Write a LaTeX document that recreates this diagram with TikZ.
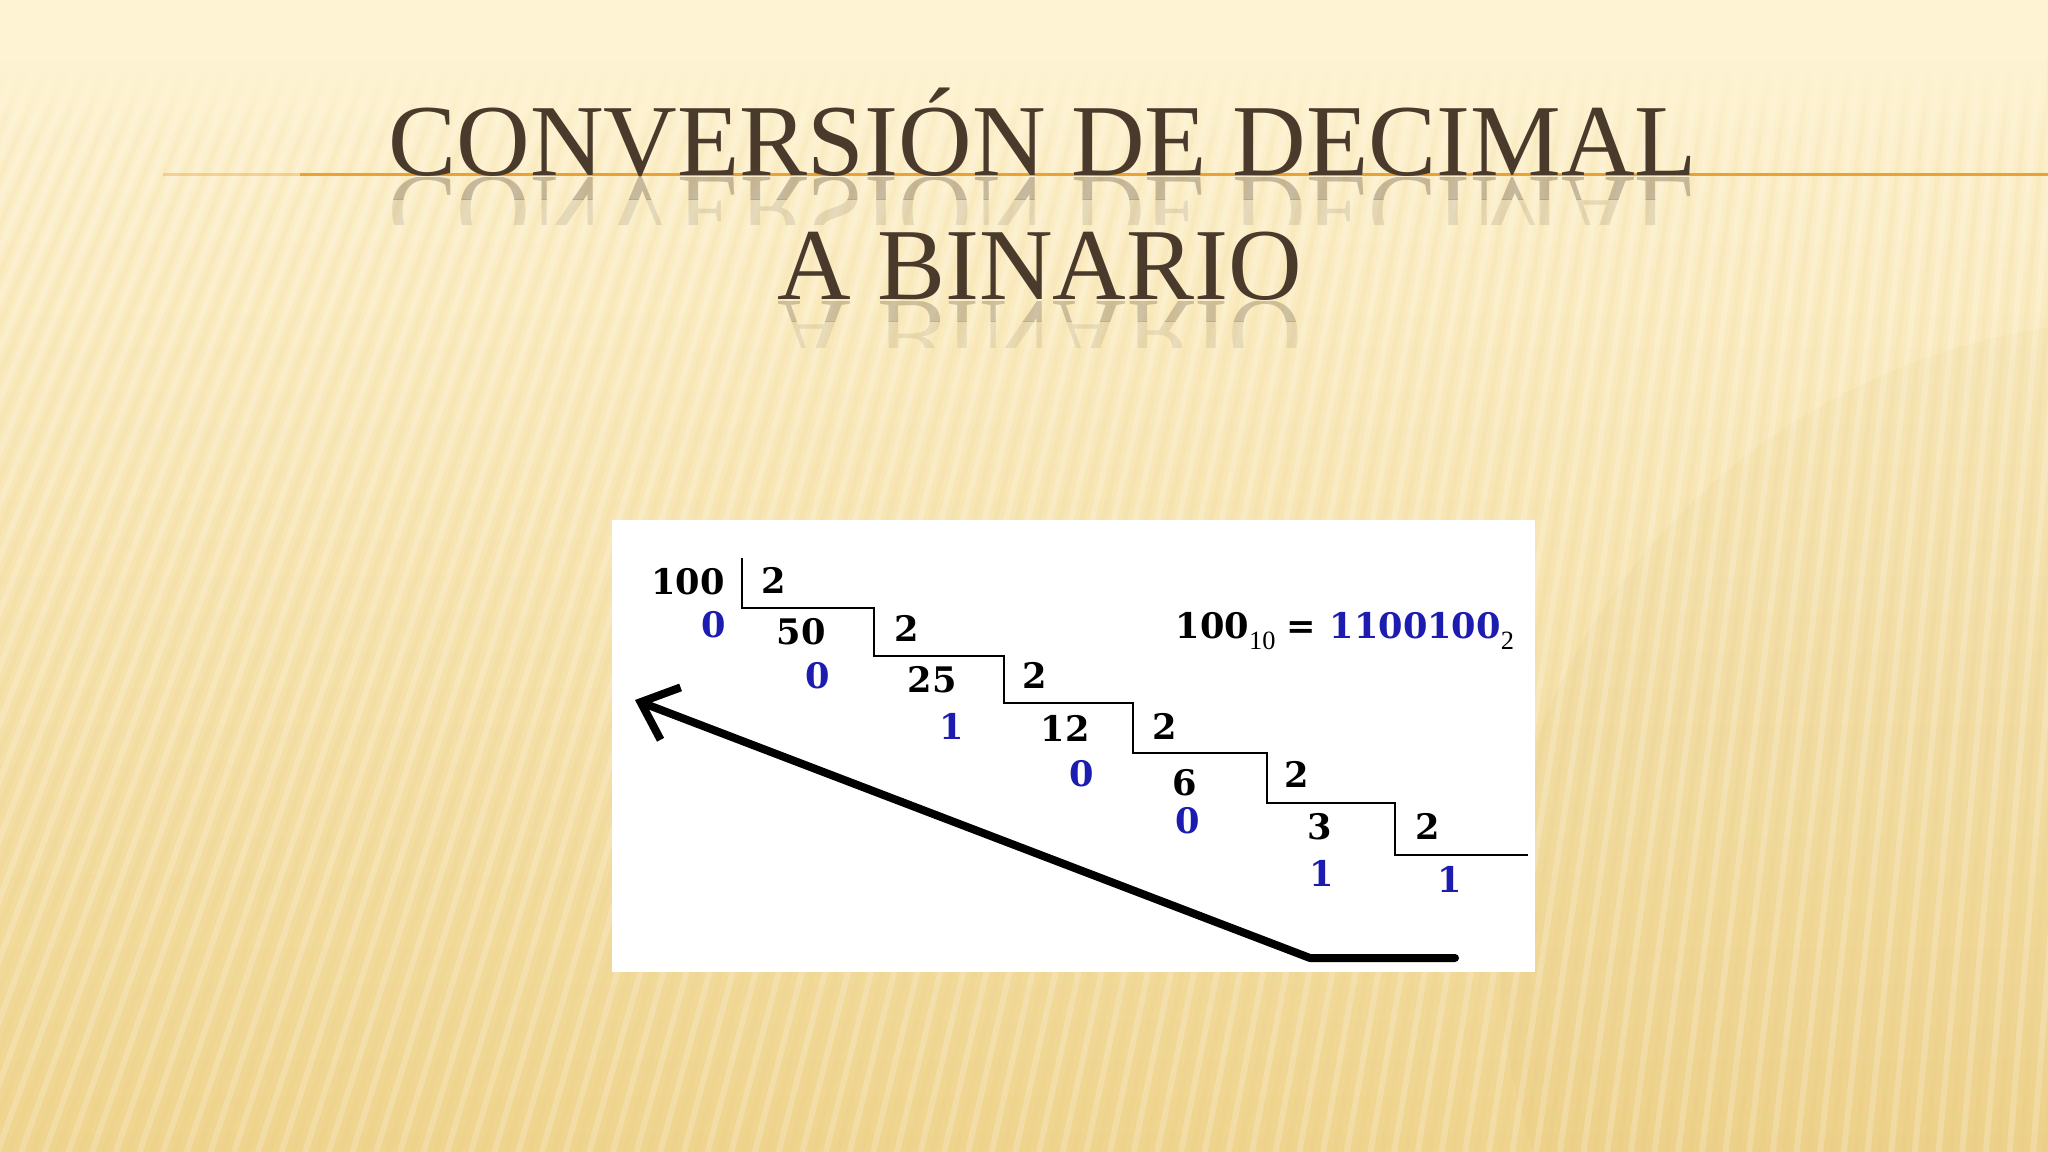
\documentclass[tikz,border=0pt]{standalone}
\usepackage{graphicx}
\usepackage{fontspec}
\setmainfont{Liberation Serif}
\newfontfamily\digits{DejaVu Serif}
\usetikzlibrary{arrows.meta,fadings}

\definecolor{bgtop}{HTML}{FEF3D2}
\definecolor{bgmid}{HTML}{F9E6B4}
\definecolor{bgbot}{HTML}{EFD48E}
\definecolor{bgdark}{HTML}{D9B866}
\definecolor{titlebrown}{HTML}{4A3A2B}
\definecolor{lineorange}{HTML}{E8A236}
\definecolor{binblue}{HTML}{1C1CB0}

\newcommand{\basesub}[1]{\raisebox{-3.4pt}{\rmfamily\mdseries\fontsize{7.5pt}{9pt}\selectfont #1}}

\begin{document}
\begin{tikzpicture}[x=0.01cm, y=-0.01cm,
  stripe/.style={white, opacity=0.2, line width=0.06cm},
  darkstripe/.style={bgdark, opacity=0.06, line width=0.05cm},
  title/.style={text=titlebrown, font=\fontsize{29pt}{34pt}\selectfont, inner sep=0, anchor=base},
  num/.style={font=\digits\bfseries\fontsize{10pt}{12pt}\selectfont, inner sep=0},
  rem/.style={num, text=binblue},
  stairs/.style={line width=0.8pt, line join=miter},
  back/.style={line width=0.08cm, line cap=round, line join=round,
    -{Straight Barb[length=0.32cm, width=0.56cm]}}]
  \useasboundingbox (0,0) rectangle (2048,1152);

  % background
  \shade[top color=bgtop, middle color=bgmid, bottom color=bgbot] (0,0) rectangle (2048,1152);
  \fill[bgdark, opacity=0.08] (2150,950) ellipse [x radius=6.5cm, y radius=6.3cm];
  \foreach \x in {-100,-80,...,2260} {
    \draw[stripe] (\x,60) -- ({1.1836*\x-476},1152);
    \draw[darkstripe] (\x+10,60) -- ({1.1836*(\x+10)-476},1152);
  }
  \fill[bgtop] (0,0) rectangle (2048,60);
  \fill[bgtop, path fading=south] (0,59) rectangle (2048,150);

  % title
  \draw[lineorange, opacity=0.4, line width=0.03cm] (163,175) -- (300,175);
  \draw[lineorange, line width=0.03cm] (300,175) -- (2048,175);
  \begin{scope}
    \clip (0,178) rectangle (2048,200);
    \node[title, opacity=0.3] at (1043,178) {\scalebox{1}[-1]{CONVERSIÓN DE DECIMAL}};
  \end{scope}
  \begin{scope}
    \clip (0,200) rectangle (2048,225);
    \node[title, opacity=0.12] at (1043,178) {\scalebox{1}[-1]{CONVERSIÓN DE DECIMAL}};
  \end{scope}
  \begin{scope}
    \clip (0,302) rectangle (2048,322);
    \node[title, opacity=0.25] at (1040,302) {\scalebox{1}[-1]{A BINARIO}};
  \end{scope}
  \begin{scope}
    \clip (0,322) rectangle (2048,348);
    \node[title, opacity=0.1] at (1040,302) {\scalebox{1}[-1]{A BINARIO}};
  \end{scope}
  \node[title] (title1) at (1043,176) {CONVERSIÓN DE DECIMAL};
  \node[title] (title2) at (1040,300) {A BINARIO};

  % division ladder
  \fill[white] (612,520) rectangle (1535,972);
  \draw[stairs] (742,558) -- (742,608) -- (874,608) -- (874,656) -- (1004,656)
    -- (1004,703) -- (1133,703) -- (1133,753) -- (1267,753) -- (1267,803)
    -- (1395,803) -- (1395,855) -- (1528,855);

  \node[num] (n100) at (688,582) {100};
  \node[num] (n50) at (801,632) {50};
  \node[num] (n25) at (932,680) {25};
  \node[num] (n12) at (1065,728) {12};
  \node[num] (n6) at (1185,783) {6};
  \node[num] (n3) at (1320,827) {3};

  \node[num] (d1) at (774,580) {2};
  \node[num] (d2) at (907,628) {2};
  \node[num] (d3) at (1035,675) {2};
  \node[num] (d4) at (1165,726) {2};
  \node[num] (d5) at (1297,774) {2};
  \node[num] (d6) at (1428,826) {2};

  \node[rem] (r1) at (714,625) {0};
  \node[rem] (r2) at (818,676) {0};
  \node[rem] (r3) at (952,726) {1};
  \node[rem] (r4) at (1082,774) {0};
  \node[rem] (r5) at (1188,821) {0};
  \node[rem] (r6) at (1322,873) {1};
  \node[rem] (r7) at (1450,879) {1};

  \node[num, anchor=base west] (eq) at (1175,638)
    {100\basesub{10}\hspace{3pt}=\hspace{4pt}\textcolor{binblue}{1100100}\basesub{2}};

  % reading direction
  \coordinate (tailend) at (1455,958);
  \coordinate (bend) at (1310,958);
  \coordinate (tip) at (635,700);
  \draw[back] (tailend) -- (bend) -- (tip);
\end{tikzpicture}
\end{document}
